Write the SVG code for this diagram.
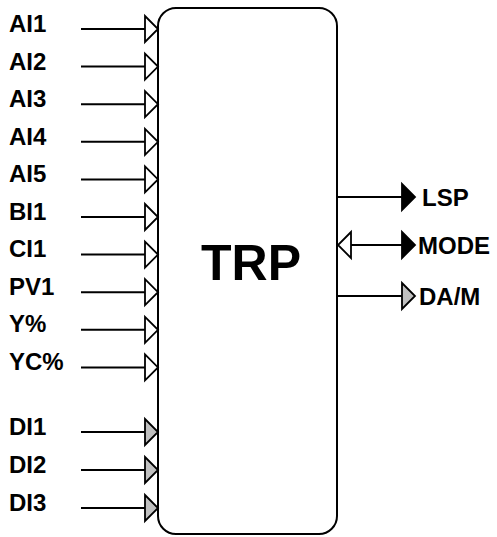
<svg xmlns="http://www.w3.org/2000/svg" width="497" height="537" viewBox="0 0 497 537">
<style>
.lbl{font-family:"Liberation Sans",Arial,sans-serif;font-weight:bold;font-size:24px;fill:#000}
.ln{stroke:#000;stroke-width:2;fill:none}
.open{fill:#fff;stroke:#000;stroke-width:1.8;stroke-linejoin:miter}
.gray{fill:#c0c0c0;stroke:#000;stroke-width:1.8}
.blk{fill:#000;stroke:#000;stroke-width:1.8}
</style>
<defs>
<path id="tri" d="M0,-13 L13,0 L0,13 Z"/>
</defs>
<rect width="497" height="537" fill="#fff"/>
<g id="connectors">
<g class="ln">
<line x1="81" y1="29" x2="145" y2="29"/>
<line x1="81" y1="66.6" x2="145" y2="66.6"/>
<line x1="81" y1="104.2" x2="145" y2="104.2"/>
<line x1="81" y1="141.8" x2="145" y2="141.8"/>
<line x1="81" y1="179.4" x2="145" y2="179.4"/>
<line x1="81" y1="217" x2="145" y2="217"/>
<line x1="81" y1="254.6" x2="145" y2="254.6"/>
<line x1="81" y1="292.2" x2="145" y2="292.2"/>
<line x1="81" y1="329.8" x2="145" y2="329.8"/>
<line x1="81" y1="367.4" x2="145" y2="367.4"/>
<line x1="81" y1="432" x2="145" y2="432"/>
<line x1="81" y1="470" x2="145" y2="470"/>
<line x1="81" y1="508" x2="145" y2="508"/>
<line x1="337" y1="197" x2="402" y2="197"/>
<line x1="351" y1="245" x2="402" y2="245"/>
<line x1="337" y1="296" x2="402" y2="296"/>
</g>
<use href="#tri" class="open" x="145" y="29"/>
<use href="#tri" class="open" x="145" y="66.6"/>
<use href="#tri" class="open" x="145" y="104.2"/>
<use href="#tri" class="open" x="145" y="141.8"/>
<use href="#tri" class="open" x="145" y="179.4"/>
<use href="#tri" class="open" x="145" y="217"/>
<use href="#tri" class="open" x="145" y="254.6"/>
<use href="#tri" class="open" x="145" y="292.2"/>
<use href="#tri" class="open" x="145" y="329.8"/>
<use href="#tri" class="open" x="145" y="367.4"/>
<use href="#tri" class="gray" x="145" y="432"/>
<use href="#tri" class="gray" x="145" y="470"/>
<use href="#tri" class="gray" x="145" y="508"/>
<use href="#tri" class="blk" x="402" y="197"/>
<path class="open" d="M351,232 L338,245 L351,258 Z"/>
<use href="#tri" class="blk" x="402" y="245"/>
<use href="#tri" class="gray" x="402" y="296"/>
</g>
<g id="TRP">
<rect x="158" y="8" width="179" height="526" rx="18" ry="18" fill="none" stroke="#000" stroke-width="2"/>
<text class="lbl" x="251" y="280" text-anchor="middle" style="font-size:50px">TRP</text>
</g>
<g id="labels">
<text class="lbl" x="9" y="32">AI1</text>
<text class="lbl" x="9" y="69.5">AI2</text>
<text class="lbl" x="9" y="107">AI3</text>
<text class="lbl" x="9" y="144.5">AI4</text>
<text class="lbl" x="9" y="182">AI5</text>
<text class="lbl" x="9" y="219.5">BI1</text>
<text class="lbl" x="9" y="257">CI1</text>
<text class="lbl" x="9" y="294.5">PV1</text>
<text class="lbl" x="9" y="332">Y%</text>
<text class="lbl" x="9" y="369.5">YC%</text>
<text class="lbl" x="9" y="435">DI1</text>
<text class="lbl" x="9" y="472.5">DI2</text>
<text class="lbl" x="9" y="510.5">DI3</text>
<text class="lbl" x="422" y="205.5">LSP</text>
<text class="lbl" x="418" y="253.5">MODE</text>
<text class="lbl" x="419" y="304.5">DA/M</text>
</g>
</svg>
